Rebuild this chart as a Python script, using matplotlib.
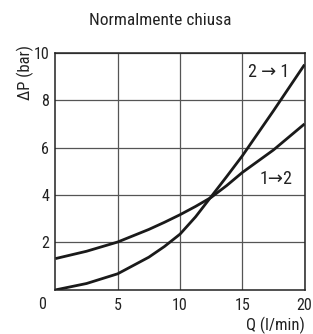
import matplotlib
matplotlib.use("Agg")
import matplotlib.pyplot as plt

plt.rcParams['font.family'] = ['Liberation Sans Narrow', 'Roboto Condensed', 'Roboto', 'DejaVu Sans']

Q = [0, 2.5, 5, 7.5, 8.75, 10, 11.25, 12.5, 13.75, 15, 17.5, 20]
dP_21 = [0, 0.27, 0.68, 1.38, 1.83, 2.35, 3.08, 3.93, 4.78, 5.65, 7.55, 9.5]
dP_12 = [1.32, 1.63, 2.02, 2.55, 2.85, 3.17, 3.52, 3.9, 4.4, 4.95, 5.9, 7.0]
xticks = [5, 10, 15, 20]
yticks = [2, 4, 6, 8, 10]

fig = plt.figure(figsize=(3.13, 3.34), dpi=100)
ax = fig.add_axes([0.177, 0.132, 0.796, 0.710])

ax.plot(Q, dP_21, color='#1a1a1a', lw=2.0, solid_capstyle='butt')
ax.plot(Q, dP_12, color='#1a1a1a', lw=2.0, solid_capstyle='butt')

ax.set_xlim(0, 20)
ax.set_ylim(0, 10)
ax.set_xticks(xticks)
ax.set_yticks(yticks)
ax.grid(True, color='#555555', lw=0.9)
ax.tick_params(length=0, labelsize=11.5, pad=4.5, labelcolor='#222222')
ax.tick_params(axis='x', pad=6)
for s in ax.spines.values():
    s.set_color('#222222')
    s.set_linewidth(1.1)

ax.annotate('0', xy=(0, 0), xycoords='data', xytext=(-13.5, -14.5),
            textcoords='offset pixels', ha='center', va='center', fontsize=11.5, color='#222222')
ax.text(1.0, -0.148, 'Q (l/min)', transform=ax.transAxes, ha='right', va='center',
        fontsize=12, color='#222222')
ax.text(-0.122, 0.915, 'ΔP (bar)', transform=ax.transAxes, ha='center', va='center',
        rotation=90, fontsize=12, color='#222222')
fig.text(0.511, 0.94, 'Normalmente chiusa', ha='center', va='center', fontsize=12.5, color='#222222')

ax.text(17.1, 9.2, '2 → 1', ha='center', va='center', fontsize=13, color='#222222')
ax.text(17.7, 4.68, '1→2', ha='center', va='center', fontsize=13, color='#222222')

fig.savefig('out.png', dpi=100)
